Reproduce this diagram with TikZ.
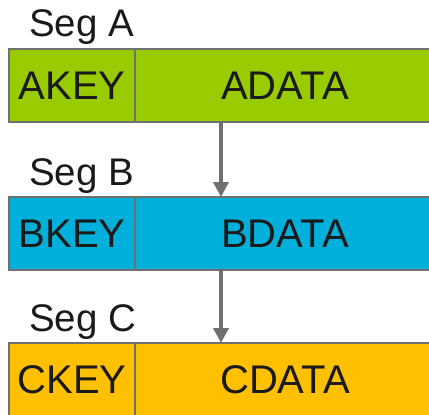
\documentclass[tikz,border=0pt]{standalone}
\usepackage{fontspec}
\setmainfont{Liberation Sans}
\usetikzlibrary{arrows.meta,positioning}
\definecolor{segA}{HTML}{99CC00}
\definecolor{segB}{HTML}{00B0DA}
\definecolor{segC}{HTML}{FFC000}
\definecolor{edge}{HTML}{707070}
\definecolor{ink}{HTML}{1A1A1A}
\tikzset{
  key/.style  ={draw=edge,line width=2pt,minimum width=126pt,minimum height=73pt,
                inner sep=0pt,outer sep=0pt,text=ink,font=\fontsize{40}{48}\selectfont},
  data/.style ={key,minimum width=300pt},
  seg/.style  ={inner sep=0pt,text=ink,font=\fontsize{38.5}{46}\selectfont},
  a/.style    ={-{Triangle[length=15pt,width=15pt]},line width=4pt,edge},
}
\begin{document}
\begin{tikzpicture}
  \useasboundingbox (0,0) rectangle (429pt,-415pt);
  % segment rows
  \node[key,fill=segA,anchor=north west] (keyA) at (9pt,-49pt) {AKEY};
  \node[data,fill=segA,right=0pt of keyA] (dataA) {ADATA};
  \node[key,fill=segB,below=75pt of keyA] (keyB) {BKEY};
  \node[data,fill=segB,right=0pt of keyB] (dataB) {BDATA};
  \node[key,fill=segC,below=73pt of keyB] (keyC) {CKEY};
  \node[data,fill=segC,right=0pt of keyC] (dataC) {CDATA};

  % labels
  \node[seg,above right=12pt and 20pt of keyA.north west,anchor=base west] (lblA) {Seg A};
  \node[seg,above right=12pt and 20pt of keyB.north west,anchor=base west] (lblB) {Seg B};
  \node[seg,above right=12pt and 20pt of keyC.north west,anchor=base west] (lblC) {Seg C};

  % links
  \draw[a] ([xshift=-64pt]dataA.south) -- ([xshift=-64pt]dataB.north);
  \draw[a] ([xshift=-64pt]dataB.south) -- ([xshift=-64pt]dataC.north);
\end{tikzpicture}
\end{document}
